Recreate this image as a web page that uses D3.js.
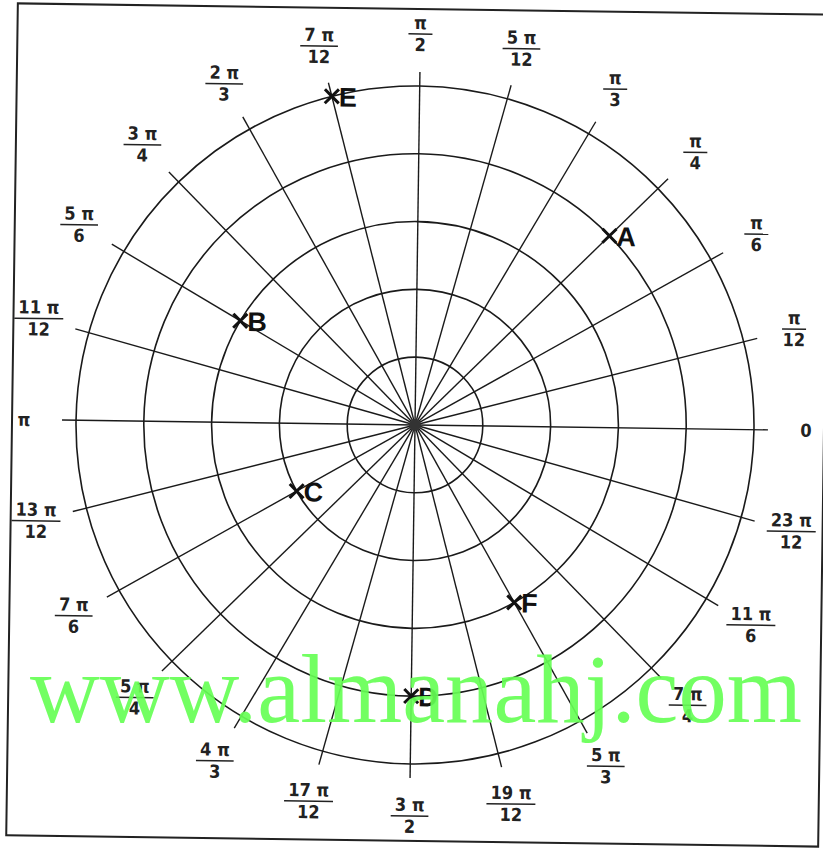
<!DOCTYPE html>
<html>
<head>
<meta charset="utf-8">
<script src="https://cdn.jsdelivr.net/npm/d3@7"></script>
<style>
  body { margin: 0; background: #fff; }
  svg { display: block; }
</style>
</head>
<body>
<script>

// angle labels, one every pi/12, as [numerator, denominator]
var tickNum = ["0", "π", "π", "π", "π", "5 π", "π", "7 π", "2 π", "3 π", "5 π", "11 π",
               "π", "13 π", "7 π", "5 π", "4 π", "17 π", "3 π", "19 π", "5 π", "7 π", "11 π", "23 π"];
var tickDen = ["", "12", "6", "4", "3", "12", "2", "12", "3", "4", "6", "12",
               "", "12", "6", "4", "3", "12", "2", "12", "3", "4", "6", "12"];

var rings = [1, 2, 3, 4, 5];

// plotted points: angle in twelfths of pi, radius in rings
var pointNames = ["A", "B", "C", "D", "E", "F"];
var pointAngle = [3, 10, 14, 18, 7, 20];
var pointRadius = [4, 3, 2, 4, 5, 3];

var width = 823, height = 852;
var cx = 415, cy = 425;

var svg = d3.select("body").append("svg")
    .attr("width", width)
    .attr("height", height);

// the scan is a little tilted
var page = svg.append("g")
    .attr("transform", "rotate(0.8,418,425)");

page.append("rect")
    .attr("x", 12).attr("y", 9)
    .attr("width", 812).attr("height", 832)
    .attr("fill", "none")
    .attr("stroke", "#222")
    .attr("stroke-width", 2);

var r = d3.scaleLinear().domain([0, 5]).range([0, 339]);
var ang = d3.scaleLinear().domain([0, 24]).range([0, 2 * Math.PI]);

var px = function(a, d){ return cx + d * Math.cos(a); };
var py = function(a, d){ return cy - d * Math.sin(a); };

var g = page.append("g");

g.selectAll("circle.ring").data(rings)
    .enter()
    .append("circle")
    .attr("class", "ring")
    .attr("cx", cx).attr("cy", cy)
    .attr("r", function(d){ return r(d); })
    .attr("fill", "none")
    .attr("stroke", "#1a1a1a")
    .attr("stroke-width", 1.6);

g.selectAll("line.spoke").data(d3.range(24))
    .enter()
    .append("line")
    .attr("class", "spoke")
    .attr("x1", cx).attr("y1", cy)
    .attr("x2", function(d){ return px(ang(d), r(5) + 14); })
    .attr("y2", function(d){ return py(ang(d), r(5) + 14); })
    .attr("stroke", "#1a1a1a")
    .attr("stroke-width", 1.4);

g.append("circle")
    .attr("cx", cx).attr("cy", cy).attr("r", 6)
    .attr("fill", "#333");

// angle labels
var labelR = 391;
var lab = g.selectAll("g.tick").data(d3.range(24))
    .enter()
    .append("g")
    .attr("class", "tick")
    .attr("transform", function(d){
        return "translate(" + px(ang(d), labelR) + "," + py(ang(d), labelR) + ")";
    })
    .style("font-family", "'Liberation Sans Narrow', 'Arial Narrow', 'DejaVu Sans Condensed', sans-serif")
    .style("font-weight", "bold")
    .style("font-size", "18px")
    .attr("fill", "#222");

lab.each(function(d){
    var t = d3.select(this);
    if (tickDen[d] === "") {
        t.append("text")
            .attr("text-anchor", "middle")
            .attr("dy", "0.35em")
            .text(tickNum[d]);
        return;
    }
    var num = t.append("text")
        .attr("text-anchor", "middle")
        .attr("y", -5)
        .text(tickNum[d]);
    t.append("text")
        .attr("text-anchor", "middle")
        .attr("y", 17)
        .text(tickDen[d]);
    var w = Math.max(num.node().getComputedTextLength(), 16) + 8;
    t.append("line")
        .attr("x1", -w / 2).attr("x2", w / 2)
        .attr("y1", 0).attr("y2", 0)
        .attr("stroke", "#222")
        .attr("stroke-width", 1.5);
});

// marked points
var pts = g.selectAll("g.pt").data(pointNames)
    .enter()
    .append("g")
    .attr("class", "pt")
    .attr("transform", function(d, i){
        var a = ang(pointAngle[i]), d0 = r(pointRadius[i]);
        return "translate(" + px(a, d0) + "," + py(a, d0) + ")";
    });

pts.append("path")
    .attr("d", "M-7,-7L7,7M-7,7L7,-7")
    .attr("stroke", "#111")
    .attr("stroke-width", 3);

pts.append("text")
    .attr("x", 7)
    .attr("y", 10)
    .style("font-family", "'Liberation Sans', Arial, sans-serif")
    .style("font-weight", "bold")
    .style("font-size", "27px")
    .attr("fill", "#111")
    .text(function(d){ return d; });

// watermark
svg.append("text")
    .attr("x", 30)
    .attr("y", 722)
    .attr("textLength", 772)
    .attr("lengthAdjust", "spacingAndGlyphs")
    .style("font-family", "'Liberation Serif', 'Times New Roman', serif")
    .style("font-size", "98px")
    .attr("fill", "#66ff55")
    .attr("fill-opacity", 0.92)
    .text("www.almanahj.com");

</script>
</body>
</html>
